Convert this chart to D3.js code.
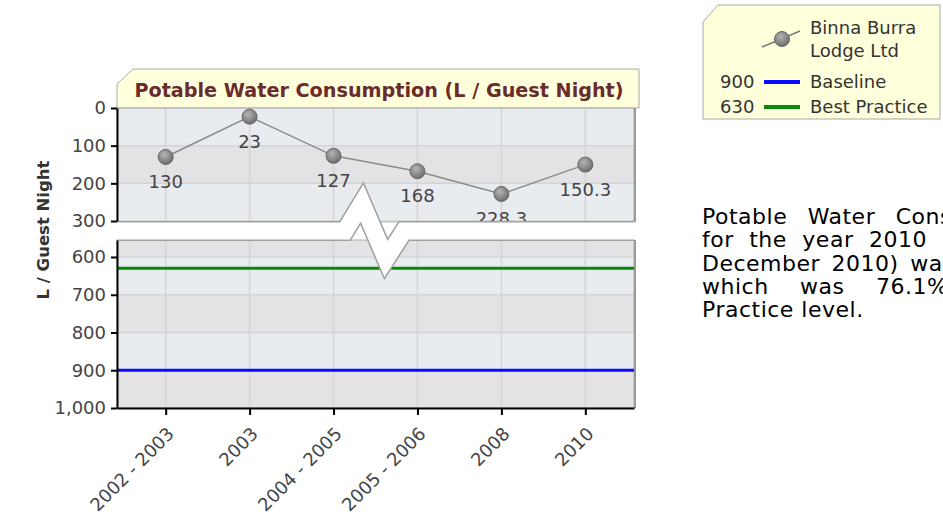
<!DOCTYPE html>
<html>
<head>
<meta charset="utf-8">
<script src="https://cdn.jsdelivr.net/npm/d3@7"></script>
<style>
body { margin: 0; background: #fff; overflow: hidden; }
svg { display: block; font-family: "DejaVu Sans", sans-serif; }
</style>
</head>
<body>
<div id="chart"></div>
<script>
var years = ["2002 - 2003", "2003", "2004 - 2005", "2005 - 2006", "2008", "2010"];
var consumption = [130, 23, 127, 168, 228.3, 150.3];
var consumptionLabels = ["130", "23", "127", "168", "228.3", "150.3"];
var baseline = 900;
var bestPractice = 630;
var topTicks = [0, 100, 200, 300];
var bottomTicks = [600, 700, 800, 900, 1000];
var topDomain = [0, 300];
var bottomDomain = [555, 1000];
var seriesName = ["Binna Burra", "Lodge Ltd"];
var chartTitle = "Potable Water Consumption (L / Guest Night)";
var axisTitle = "L / Guest Night";
var summaryLines = [
    "Potable Water Consumption (L / Guest Night)",
    "for the year 2010 (January 2010 -",
    "December 2010) was 150.3 L / Guest Night,",
    "which was 76.1% better than the Best",
    "Practice level."
];
var summarySpacing = [13, 8, 4, 24, 0];

var width = 943, height = 518;
var left = 117, right = 634;
var topPanel = [108, 222], bottomPanel = [240, 408];

var svg = d3.select('#chart')
    .append('svg')
    .attr('width', width)
    .attr('height', height);

var defs = svg.append('defs');
var grad = defs.append('radialGradient').attr('id', 'ball')
    .attr('cx', '40%').attr('cy', '35%').attr('r', '65%');
grad.append('stop').attr('offset', '0%').attr('stop-color', '#b4b4b4');
grad.append('stop').attr('offset', '100%').attr('stop-color', '#6e6e6e');
defs.append('clipPath').attr('id', 'topclip')
    .append('rect').attr('x', left).attr('y', topPanel[0] - 20)
    .attr('width', right - left).attr('height', topPanel[1] - topPanel[0] + 20);

var x = d3.scalePoint().domain(years).range([left, right]).padding(0.58);
var yTop = d3.scaleLinear().domain(topDomain).range([108, 221]);
var yBot = d3.scaleLinear().domain(bottomDomain).range([240, 408]);

// title box
svg.append('path')
    .attr('d', 'M117,84 L133,69 L639,69 L639,108 L117,108 Z')
    .attr('fill', '#ffffdc').attr('stroke', '#a8a8a8');
svg.append('text')
    .attr('x', 379).attr('y', 97)
    .attr('text-anchor', 'middle')
    .attr('font-size', 19.2).attr('font-weight', 'bold')
    .attr('fill', '#6b2b2b')
    .text(chartTitle);

function drawPanel(scale, edges, ticks, y0, y1) {
    var g = svg.append('g');
    var bands = d3.range(edges.length - 1).map(function (i) { return [edges[i], edges[i + 1]]; });
    g.selectAll('rect.band')
        .data(bands)
        .enter().append('rect')
        .attr('x', left).attr('width', right - left)
        .attr('y', function (d) { return scale(d[0]); })
        .attr('height', function (d) { return scale(d[1]) - scale(d[0]); })
        .attr('fill', function (d) { return Math.floor(d[0] / 100) % 2 ? '#e3e3e5' : '#e8ebef'; });
    g.selectAll('line.h')
        .data(ticks)
        .enter().append('line')
        .attr('x1', left).attr('x2', right)
        .attr('y1', function (d) { return scale(d); })
        .attr('y2', function (d) { return scale(d); })
        .attr('stroke', '#d4d4d4').attr('stroke-width', 1.5);
    g.selectAll('line.v')
        .data(years)
        .enter().append('line')
        .attr('x1', function (d) { return x(d); })
        .attr('x2', function (d) { return x(d); })
        .attr('y1', y0).attr('y2', y1)
        .attr('stroke', '#d4d4d4').attr('stroke-width', 1.5);
    g.append('rect')
        .attr('x', left).attr('y', y0)
        .attr('width', right - left).attr('height', y1 - y0)
        .attr('fill', 'none').attr('stroke', '#b0b0b0');
    g.append('line')
        .attr('x1', right + 1).attr('x2', right + 1)
        .attr('y1', y0).attr('y2', y1)
        .attr('stroke', '#999').attr('stroke-width', 2);
    return g;
}

drawPanel(yTop, [0, 100, 200, 300], topTicks, topPanel[0], topPanel[1]);
var bottomEdges = [bottomDomain[0]].concat(bottomTicks);
drawPanel(yBot, bottomEdges, bottomTicks, bottomPanel[0], bottomPanel[1]);

// reference lines
svg.append('line')
    .attr('x1', left).attr('x2', right)
    .attr('y1', yBot(bestPractice)).attr('y2', yBot(bestPractice))
    .attr('stroke', '#078a07').attr('stroke-width', 3);
svg.append('line')
    .attr('x1', left).attr('x2', right)
    .attr('y1', yBot(baseline)).attr('y2', yBot(baseline))
    .attr('stroke', '#0a0aff').attr('stroke-width', 3);

// series
var series = svg.append('g').attr('clip-path', 'url(#topclip)');
var line = d3.line()
    .x(function (d, i) { return x(years[i]); })
    .y(function (d) { return yTop(d); });
series.append('path')
    .datum(consumption)
    .attr('d', line)
    .attr('fill', 'none').attr('stroke', '#8a8a8a').attr('stroke-width', 1.5);
series.selectAll('circle')
    .data(consumption)
    .enter().append('circle')
    .attr('cx', function (d, i) { return x(years[i]); })
    .attr('cy', function (d) { return yTop(d); })
    .attr('r', 7.5)
    .attr('fill', 'url(#ball)').attr('stroke', '#666');
series.selectAll('text')
    .data(consumption)
    .enter().append('text')
    .attr('x', function (d, i) { return x(years[i]); })
    .attr('y', function (d) { return yTop(d) + 31; })
    .attr('text-anchor', 'middle')
    .attr('font-size', 18).attr('fill', '#444')
    .text(function (d, i) { return consumptionLabels[i]; });

// axis break
var breakPts = [[left, 231], [345, 231], [362, 203], [386, 259], [404, 231], [right, 231]];
svg.append('path')
    .attr('d', d3.line()(breakPts))
    .attr('fill', 'none').attr('stroke', '#a0a0a0').attr('stroke-width', 20)
    .attr('stroke-linejoin', 'miter');
svg.append('path')
    .attr('d', d3.line()(breakPts))
    .attr('fill', 'none').attr('stroke', '#fff').attr('stroke-width', 17)
    .attr('stroke-linejoin', 'miter');

// axes
function styleAxis(g) {
    g.selectAll('path.domain').attr('stroke', '#000').attr('stroke-width', 2);
    g.selectAll('.tick line').attr('stroke', '#000').attr('stroke-width', 2);
    g.selectAll('.tick text').attr('fill', '#444').attr('font-size', 18)
        .attr('font-family', '"DejaVu Sans", sans-serif');
}
svg.append('g')
    .attr('transform', 'translate(' + left + ',0)')
    .call(d3.axisLeft(yTop).tickValues(topTicks).tickSize(6).tickSizeOuter(0).tickPadding(5))
    .call(styleAxis);
svg.append('g')
    .attr('transform', 'translate(' + left + ',0)')
    .call(d3.axisLeft(yBot).tickValues(bottomTicks).tickSize(6).tickSizeOuter(0).tickPadding(5)
        .tickFormat(d3.format(',')))
    .call(styleAxis);
var xAxis = svg.append('g')
    .attr('transform', 'translate(0,' + bottomPanel[1] + ')')
    .call(d3.axisBottom(x).tickSize(7).tickSizeOuter(0))
    .call(styleAxis);
xAxis.selectAll('.tick text')
    .attr('x', 0).attr('y', 0).attr('dy', 0)
    .attr('text-anchor', 'end')
    .attr('transform', 'translate(9,27) rotate(-45)');

svg.append('text')
    .attr('transform', 'translate(49,230) rotate(-90)')
    .attr('text-anchor', 'middle')
    .attr('font-size', 16.5).attr('font-weight', 'bold')
    .attr('fill', '#333')
    .text(axisTitle);

// legend
var legend = svg.append('g');
legend.append('path')
    .attr('d', 'M703,22 L718,5 L940,5 L940,119 L703,119 Z')
    .attr('fill', '#ffffdc').attr('stroke', '#a8a8a8');
legend.append('line')
    .attr('x1', 762).attr('y1', 47).attr('x2', 800).attr('y2', 31)
    .attr('stroke', '#777').attr('stroke-width', 1.5);
legend.append('circle')
    .attr('cx', 782).attr('cy', 39).attr('r', 7.5)
    .attr('fill', 'url(#ball)').attr('stroke', '#666');
legend.selectAll('text.name')
    .data(seriesName)
    .enter().append('text')
    .attr('x', 810)
    .attr('y', function (d, i) { return 34 + i * 23; })
    .attr('font-size', 18).attr('fill', '#333')
    .text(function (d) { return d; });
var refItems = [
    { value: baseline, label: "Baseline", color: '#0a0aff' },
    { value: bestPractice, label: "Best Practice", color: '#078a07' }
];
var items = legend.selectAll('g.item')
    .data(refItems)
    .enter().append('g')
    .attr('transform', function (d, i) { return 'translate(0,' + (82 + i * 25) + ')'; });
items.append('text')
    .attr('x', 720).attr('y', 6)
    .attr('font-size', 18).attr('fill', '#333')
    .text(function (d) { return d.value; });
items.append('line')
    .attr('x1', 764).attr('x2', 800)
    .attr('stroke', function (d) { return d.color; })
    .attr('stroke-width', 4);
items.append('text')
    .attr('x', 810).attr('y', 6)
    .attr('font-size', 18).attr('fill', '#333')
    .text(function (d) { return d.label; });

// summary paragraph
svg.append('g').selectAll('text')
    .data(summaryLines)
    .enter().append('text')
    .attr('x', 702)
    .attr('y', function (d, i) { return 224 + i * 23.3; })
    .attr('font-size', 22).attr('letter-spacing', 0.5).attr('fill', '#000')
    .attr('word-spacing', function (d, i) { return summarySpacing[i]; })
    .text(function (d) { return d; });
</script>
</body>
</html>
